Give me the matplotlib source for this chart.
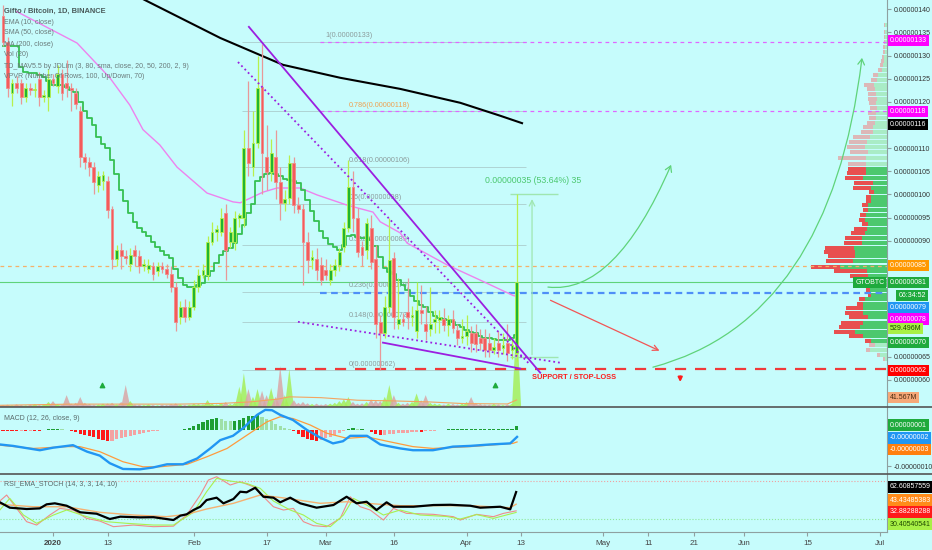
import numpy as np
import matplotlib.pyplot as plt
from matplotlib.lines import Line2D
from matplotlib.patches import FancyArrowPatch
from matplotlib.path import Path

plt.rcParams['font.family'] = ['Liberation Sans Narrow', 'DejaVu Sans Condensed', 'Liberation Sans', 'DejaVu Sans']

# ---- data (prices in satoshi, 1 sat = 0.00000001 BTC; day 0 = 2020-01-01) ----
first_day = -11
opens = [138.5, 133, 122, 124, 124, 121, 123, 122.5, 125, 121,
         121, 125, 123.5, 126, 124, 123, 122, 118, 108, 107,
         106, 102, 103, 103, 96.8, 86, 88, 86.8, 85, 88,
         86.8, 84.6, 84, 84.6, 83.5, 84.6, 84, 82.8, 80, 73.5,
         75.7, 73.5, 75.7, 80, 82.6, 82.6, 89.8, 92, 91.9, 96,
         89.8, 89.8, 95, 95, 110, 106, 111.1, 123.2, 108, 104.8,
         108, 102.7, 98.2, 99.2, 106.8, 97.7, 96.8, 89.8, 85.8, 86,
         84.8, 83.7, 81.5, 83.7, 84.8, 88.7, 92.8, 101.7, 95, 88.7,
         88, 92.8, 86, 72.5, 70.1, 75.7, 86.3, 72, 73, 74.6,
         73.5, 70.5, 75, 72, 71, 72.5, 72.9, 73, 71.8, 73,
         70.7, 69, 69.5, 70.1, 70, 69, 69, 68, 66.5, 68,
         66.9, 68, 66.4, 65.8]
highs = [141, 134, 125, 125.5, 125, 124, 124, 124, 126.5, 122.5,
         127, 126, 128, 127, 129, 124, 123, 119, 109, 108,
         107, 105, 105, 104, 97.5, 89, 89.5, 88, 88.5, 89,
         88, 86, 86, 85.5, 85.5, 85.5, 85, 84.5, 81, 77,
         77.5, 77, 81.5, 84, 85, 91, 94, 93.5, 97, 98,
         93, 96.5, 96, 114, 124.5, 118, 130, 132.5, 115, 112,
         114, 106, 101, 108.5, 108, 99.5, 98, 92, 88, 88.5,
         86.5, 86, 85, 86, 88.5, 94, 107.5, 105, 97, 90,
         95, 95.5, 89, 74, 78, 95, 87.5, 82, 74.5, 82,
         76, 81, 80.5, 76, 80, 75, 75, 75.5, 74, 75,
         72, 73, 74, 71.5, 72, 71, 71, 70, 69, 70.5,
         70, 72, 69, 100]
lows = [132, 121, 119, 122, 119.5, 120, 121.5, 121, 119, 120,
        118, 123.5, 122, 120.5, 121, 118, 118.5, 106, 105.5, 104,
        100, 100.5, 101, 95, 84, 84.5, 84, 85, 83.5, 84.5,
        83, 83.5, 83, 81.5, 82.5, 83, 82, 79, 70.5, 72,
        72.5, 72.8, 75, 79, 82, 81.5, 89, 90, 91, 81.5,
        88.5, 88, 93, 93, 104, 104, 110, 100, 101, 103,
        99, 94.5, 96.5, 98, 96, 96, 80.5, 83, 84, 81.5,
        80.5, 81.5, 80.5, 82.5, 83.5, 87.5, 92, 92, 86.5, 84.5,
        86, 84, 69, 62, 69, 74.5, 71, 71, 71.5, 71,
        71.5, 69, 72, 68.5, 69.5, 70, 70, 70.5, 69.5, 70,
        67.5, 68, 67.5, 66, 66, 66.5, 65, 65, 65.5, 65,
        65.5, 64, 64.5, 64]
closes = [133, 123, 124, 123, 121, 123, 122.5, 122.8, 121, 121.5,
          125, 124, 126, 122, 123, 122.5, 119.5, 108, 107, 106,
          102.7, 104, 104.2, 96.6, 86, 88, 86.8, 86.2, 87, 86.8,
          84.6, 85, 84.8, 82.8, 84.5, 84, 82.8, 80, 72.5, 75.7,
          73.5, 75.7, 80, 82.6, 83.7, 89.8, 92, 92.5, 95, 88,
          92, 95, 95.5, 110, 106.8, 111.1, 123, 109, 104.8, 109,
          102.7, 98.2, 99, 106.8, 97.7, 96.8, 89.8, 85.8, 86.5, 83.7,
          81.5, 82.6, 83.7, 84.8, 87.6, 92.8, 101.7, 95, 87.6, 87,
          93.8, 85.4, 72, 70.1, 75.7, 85.9, 73.5, 73, 72.5, 73.5,
          74, 75, 74.5, 70.5, 72, 73, 73.5, 71.8, 73, 71.2,
          69, 69.5, 70.5, 68, 67.8, 68, 66.4, 66.4, 67, 66.4,
          67.5, 65.8, 67.5, 81]
volumes = [12, 14, 10, 16, 12, 10, 14, 18, 12, 15,
           30, 35, 18, 15, 70, 20, 25, 59, 25, 18,
           14, 15, 20, 21, 25, 15, 30, 130, 35, 15,
           14, 12, 16, 12, 10, 14, 12, 18, 22, 15,
           12, 14, 20, 18, 16, 41, 20, 15, 24, 30,
           18, 25, 120, 200, 106, 60, 106, 95, 70, 112,
           60, 242, 70, 224, 40, 25, 30, 22, 18, 20,
           15, 18, 20, 25, 35, 45, 59, 30, 20, 22,
           30, 45, 40, 35, 60, 130, 70, 25, 20, 25,
           30, 80, 40, 70, 25, 20, 18, 15, 20, 18,
           15, 20, 30, 59, 25, 18, 15, 14, 18, 15,
           12, 16, 20, 529.5]
vol_ma_days = [-11.7, 4, 27.6, 37, 43.4, 49.6, 52, 59, 67, 74.8, 82.7, 90.5, 100, 102]
vol_ma = [10, 17, 17, 21, 30, 47, 60, 55, 40, 36, 30, 20, 18, 41.6]

# TD_MAV step line, SMA 50, MA 200
step_line = [132, 132, 132, 132, 127.5, 126.5, 126.2, 126.2, 125.8, 125.4,
             124.5, 123.6, 123.6, 123.6, 123.2, 122.6, 122.1, 120, 118, 116.5,
             115, 112.5, 111, 110, 107.5, 104.5, 101, 98.5, 96, 94,
             92.8, 92, 91, 89.8, 88.6, 87.8, 87, 86.2, 84, 82,
             80.5, 80, 80, 80.4, 80.9, 82.4, 83.5, 85.3, 87, 87.8,
             88.5, 89.5, 91.5, 93.5, 96, 98, 103, 103.8, 104.5, 104.7,
             104.4, 104, 103.4, 103.1, 103, 102.5, 101, 98.8, 96.5, 94.2,
             92.2, 90.5, 89.2, 88.6, 88, 89, 91, 91.2, 90.9, 90.6,
             90.5, 90.2, 88.9, 86.5, 84.2, 83.2, 82.8, 81.5, 80.4, 79.4,
             78, 77, 76.2, 75.6, 74.6, 73.8, 73.4, 73.2, 72.9, 72.4,
             71.8, 71.3, 70.8, 70.3, 70.1, 69.4, 69.1, 69.0, 68.8, 68.6,
             68.5, 68.6, 69.0, 69.6]
sma_days = [-8, -6.6, 5.3, 12.5, 16.9, 19.8, 23.5, 27.3, 33.9, 39.6, 41.2, 46.2, 49.3, 54.4, 58.1, 64.7, 70.4,
            72, 76.4, 77.9, 86.7, 94, 101.2, 102]
sma_vals = [139.5, 138.8, 132.7, 125.2, 119.3, 114, 110.7, 105.9, 100.3, 98.4, 98.2, 100.5, 101.4, 101.4, 99.9,
            97.7, 96.2, 94.1, 91.7, 89.5, 84.8, 81.5, 78.2, 78]
ma200_days = [16.9, 20.2, 36.8, 45.6, 50.6, 63.2, 76.4, 89.6, 98.4, 103.2]
ma200_vals = [143.7, 142, 133.8, 130.1, 128, 125.2, 122.8, 119.8, 117, 115.4]

# drawings
trend_solid = [([43.1, 107.2], [136.2, 61.5]), ([72.6, 102.8], [68, 62.4])]
trend_dotted = [([40.7, 105], [128.6, 63.2]), ([53.9, 112], [72.5, 63.6])]
fib_levels = [133, 118, 106, 98, 89, 79, 72.5, 62]
fib_names = ['1(0.00000133)', '0.786(0.00000118)', '0.618(0.00000106)', '0.5(0.00000098)',
             '0.382(0.00000089)', '0.236(0.00000079)', '0.148(0.00000072)', '0(0.00000062)']
support_level = 62.3
signal_days = [10.8, 97.3]

# volume profile rows: level, total volume, down volume
vp_levels = [136.6, 135.1, 134.0, 133.0, 131.9, 130.8, 129.7, 128.8, 128.0, 126.9,
             125.8, 124.7, 123.6, 122.8, 121.7, 120.6, 119.8, 118.7, 117.6, 116.5,
             115.4, 114.6, 113.5, 112.4, 111.3, 110.2, 109.2, 107.9, 106.6, 105.5,
             104.7, 103.6, 102.5, 101.4, 100.5, 99.5, 98.6, 97.7, 96.7, 95.6,
             94.5, 93.6, 92.6, 91.7, 90.6, 89.5, 88.4, 87.6, 86.7, 85.6,
             84.4, 83.5, 82.4, 81.4, 80.4, 79.3, 78.3, 77.4, 76.3, 75.5,
             74.4, 73.5, 72.2, 71.4, 70.3, 69.5, 68.4, 67.5, 66.4, 65.4, 64.5]
vp_total = [3, 3, 3, 3, 4, 4, 5, 6, 7, 9,
            14, 16, 23, 20, 19, 19, 18, 17, 19, 18,
            20, 24, 26, 34, 38, 40, 37, 49, 39, 39,
            40, 42, 33, 34, 18, 21, 21, 25, 24, 27,
            28, 25, 33, 36, 42, 43, 62, 63, 59, 61,
            76, 53, 37, 22, 20, 21, 19, 28, 30, 41,
            42, 38, 46, 48, 53, 38, 22, 18, 21, 10, 4]
vp_down = [1.5, 1.5, 1.5, 1.5, 2, 2, 2.5, 3, 3.5, 4.5,
           5, 6, 10, 8, 8, 9, 7, 7, 8, 7,
           8, 10, 12, 17, 18, 18, 18, 28, 18, 18,
           19, 18, 19, 18, 5, 5, 5, 6, 5, 6,
           6, 6, 13, 14, 17, 18, 29, 31, 27, 27,
           29, 33, 18, 6, 4, 4, 3, 6, 6, 17,
           18, 19, 22, 21, 21, 14, 6, 6, 4, 3, 2]
va_low, va_high = 68, 106

# MACD (sat)
macd_days = [-11.7, -8.8, -2.9, 0, 4.4, 7.5, 10.3, 12.5, 15.4, 19.1, 22, 25.1, 28.6, 31.7, 34.6, 36.8, 39.6, 41.8,
             44.9, 46.7, 48.2, 50, 52.8, 55.9, 58.8, 61.6, 63.8, 65.4, 69.1, 72, 73.5, 76.4, 79.2, 83.6, 88,
             91.8, 96.2, 100.6, 102.1]
macd_line = [-4.0, -4.4, -5.6, -4.9, -4.2, -6.0, -7.1, -9.2, -10.8, -10.9, -10.4, -9.5, -9.5, -7.9, -5.1, -2.8,
             -1.6, 0.5, 4.2, 5.6, 5.5, 4.2, 2.8, 0, -2.1, -3.7, -3.1, -1.6, -1.6, -4.0, -4.4, -5.1, -5.6, -5.6,
             -4.6, -4.4, -4.0, -3.7, -1.9]
sig_days = [-11.7, -4.4, 3.1, 5.9, 10.3, 15.4, 19.8, 23.5, 29.5, 33.9, 38.3, 42.7, 47.1, 50, 52.8, 56.6, 60.3,
            64.7, 69.1, 73.5, 79.2, 83.6, 91.8, 101.2, 102.1]
sig_line = [-4.2, -5.1, -4.6, -4.6, -6.0, -8.8, -10.2, -10.2, -9.5, -7.4, -5.1, -1.4, 2.3, 3.7, 3.2, 1.4, -0.9,
            -2.3, -1.9, -3.1, -4.6, -5.1, -4.6, -3.7, -3.3]
macd_hist = [-0.3, -0.3, -0.4, -0.4, -0.3, -0.3, -0.2, -0.2, -0.2, -0.1,
             0.2, 0.3, 0.3, 0.2, 0.1, -0.2, -0.6, -1.0, -1.3, -1.6,
             -2.0, -2.4, -2.7, -3.0, -2.9, -2.6, -2.2, -1.9, -1.6, -1.3,
             -1.0, -0.7, -0.5, -0.3, -0.2, -0.1, 0.1, 0.1, -0.1, 0.1,
             0.2, 0.6, 1.2, 1.8, 2.3, 2.8, 3.2, 3.3, 3.1, 2.6,
             2.4, 2.5, 2.9, 3.4, 3.8, 4.0, 4.1, 3.6, 3.0, 2.4,
             1.8, 1.2, 0.7, 0.3, -0.4, -1.1, -1.8, -2.4, -2.8, -3.0,
             -2.7, -2.3, -1.8, -1.3, -0.8, -0.3, 0.4, 0.5, 0.2, 0.3,
             0.1, -0.6, -1.2, -1.5, -1.4, -1.1, -1.0, -0.9, -0.8, -0.7,
             -0.6, -0.5, -0.5, -0.4, -0.3, -0.2, -0.1, 0.1, 0.2, 0.2,
             0.2, 0.2, 0.2, 0.2, 0.2, 0.2, 0.2, 0.2, 0.2, 0.2,
             0.2, 0.2, 0.3, 1.0]

# RSI_EMA_STOCH
rsi_days = [-11.7, -9.5, -5.8, -2.9, -1.4, 0.4, 3, 6, 9.6, 12.5, 14.8, 19.2, 22.1, 26.5, 28, 29.4, 30.9, 32.4,
            33.8, 36, 37.5, 39.7, 41.2, 42.6, 44.5, 46.3, 48.5, 50, 52.2, 54.4, 58, 61.7, 64.6, 66.8, 69, 71.2,
            73.4, 74.9, 79.3, 83.7, 87.4, 91.8, 94, 98.4, 100.6, 101.9]
rsi_black = [46.4, 37.9, 35.8, 36.8, 43.2, 44.8, 41, 30.6, 28.4, 20, 23.7, 22.6, 22.9, 18.4, 25.3, 27.4, 34.2,
             39.4, 50, 53.7, 44.8, 51.6, 63.1, 62.2, 69.4, 55.2, 53.7, 46.4, 53.7, 44.8, 37.9, 42.1, 55.2, 44.8,
             47.3, 34.2, 46.4, 39.4, 39.4, 42.1, 42.5, 41, 37.9, 39.4, 35.3, 62.6]
ema_days = [-11.7, -4.4, 3, 10.3, 17.7, 25, 29.4, 33.8, 39.7, 45.6, 51.4, 58.8, 64.6, 69, 76.4, 83.7, 91.8,
            100.6, 101.9]
rsi_orange = [43.2, 39.4, 39.4, 30.6, 26.3, 23.7, 27.4, 35.8, 44.8, 57.9, 52.7, 44.8, 47.3, 44.8, 41, 41, 41,
              37.9, 43.4]
k_days = [-11.7, -10.2, -8, -5.8, -3.6, -0.7, 1.5, 4.5, 7.4, 10.3, 13.3, 17.7, 22.1, 26.5, 29.4, 32.4, 34.2, 36,
          39, 41.2, 44.1, 46.3, 48.5, 50.7, 52.9, 55.1, 57.3, 60.2, 63.2, 65.4, 67.6, 69.8, 72.7, 74.9, 77.8,
          83.7, 88.1, 89.6, 93.2, 96.9, 99.1, 101.9]
stoch_k = [48.4, 57.9, 36.8, 15.8, 10.5, 26.3, 36.8, 34, 21, 16.8, 7.9, 10.5, 7.9, 8.7, 26.3, 57.9, 81.6, 86.8,
           73.7, 78.9, 71, 55.2, 39.4, 34.2, 36.8, 15.8, 9.5, 7.9, 21, 55.2, 39.4, 34.2, 18.4, 36.8, 28.9, 27.4,
           23.7, 18.4, 27.4, 23.7, 28.9, 32.9]
d_days = [-11.7, -9.5, -6.5, -3.6, 0.1, 3, 7.4, 11.8, 16.2, 22.1, 26.5, 30.9, 33.8, 36, 39, 42.6, 45.6, 48.5,
          52.2, 55.1, 58, 61, 63.9, 66.1, 69, 72.7, 76.4, 80.8, 86.6, 89.6, 93.2, 96.9, 101.9]
stoch_d = [34.2, 52.6, 26.3, 13.2, 26.3, 34.2, 23.7, 15.8, 13.2, 10.5, 10.5, 30.6, 63.1, 84.2, 80, 76.3, 68.4,
           48.4, 34.2, 26.3, 13.2, 7.9, 26.3, 52.6, 42.1, 26.3, 34.2, 26.3, 24, 20, 27, 21, 30.4]

tick_days = [0, 12, 31, 47, 60, 75, 91, 103, 121, 131, 141, 152, 166, 182]
tick_names = ['2020', '13', 'Feb', '17', 'Mar', '16', 'Apr', '13', 'May', '11', '21', 'Jun', '15', 'Jul']

price_ticks = [60, 65, 90, 95, 100, 105, 110, 120, 125, 130, 135, 140]
tag_vals = [133.2, 118, 115.2, 84.6, 81, 75.6, 73.1, 68.1, 61.9]
tag_texts = ['0.00000133', '0.00000118', '0.00000116', '0.00000085', '0.00000081', '0.00000079',
             '0.00000078', '0.00000070', '0.00000062']
tag_colors = ['#ff00ff', '#ff00ff', '#000000', '#ff9800', '#1faa3c', '#2196f3', '#ff00ff', '#1faa3c', '#ff0000']

# ---- figure ----
BG = '#c6fcfc'
X0, X1 = -11.66, 183.5
W = 887 / 932
FS = 5.0      # right-hand scale labels
LFS = 5.0     # legend text


def box(top, bottom):
    return [0, (550 - bottom) / 550, W, (bottom - top) / 550]


fig = plt.figure(figsize=(9.32, 5.5), dpi=100)
fig.patch.set_facecolor(BG)

days = np.arange(first_day, first_day + len(opens))
o = np.array(opens)
c = np.array(closes)
up = c >= o

# volume (background layer)
axv = fig.add_axes(box(0, 407))
axv.set_facecolor(BG)
for d, v, u in zip(days, volumes, up):
    axv.fill([d - 1, d, d + 1], [0, v, 0], color='#a6ee5a' if u else '#d9a6a6', alpha=0.85, lw=0)
axv.plot(vol_ma_days, vol_ma, color='#f4a460', lw=0.8)
axv.scatter(signal_days, [130, 130], marker='^', s=10, color='#1faa3c', zorder=5)
axv.set_xlim(X0, X1)
axv.set_ylim(0, 2400)
axv.axis('off')

# volume profile
axp = fig.add_axes(box(0, 407))
axp.patch.set_visible(False)
lv = np.array(vp_levels)
dn = np.array(vp_down)
upv = np.array(vp_total) - dn
inside = (lv >= va_low) & (lv <= va_high)
axp.barh(lv, upv, left=0, height=0.8, color=np.where(inside, '#4cc86e', '#a9ecc6'), lw=0)
axp.barh(lv, dn, left=upv, height=0.8, color=np.where(inside, '#e85050', '#dcb8b8'), lw=0)
axp.set_xlim(max(vp_total) / 0.086, 0)
axp.set_ylim(54.1, 142.0)
axp.axis('off')

# price
ax = fig.add_axes(box(0, 407))
ax.patch.set_visible(False)
ax.set_xlim(X0, X1)
ax.set_ylim(54.1, 142.0)

ax.hlines(fib_levels, 41.6, 104, color='#9aaeae', lw=0.6, alpha=0.6, zorder=1)
for lvl, name in zip(fib_levels, fib_names):
    ax.text(59.9 if lvl == 133 else 65, lvl + 0.5, name, fontsize=5.2,
            color='#f0a050' if lvl == 118 else '#8c9c9c', va='bottom', zorder=2)
ax.axhline(84.6, color='#f5b06a', ls=(0, (3, 3)), lw=0.9, zorder=1)
ax.axhline(81, color='#5fd37a', lw=0.8, zorder=1)
ax.hlines(78.8, 58.8, X1, color='#4f8ff7', ls=(0, (3, 2)), lw=1.6, zorder=1)
ax.hlines([133, 118], 58.8, X1, color='#e066ff', ls=(0, (3, 3)), lw=0.9, zorder=1)
ax.hlines(support_level, 44.5, X1, color='#f03a3a', ls=(0, (5, 4)), lw=1.6, zorder=2)

ax.plot(ma200_days, ma200_vals, color='black', lw=1.5, zorder=3)
ax.plot(sma_days, sma_vals, color='#ee82ee', lw=1.0, zorder=3)
ax.step(days, step_line, where='mid', color='#35c052', lw=1.3, zorder=3)

ax.vlines(days, lows, highs, colors=np.where(up, '#b8f04c', '#e89898'), lw=0.9, zorder=4)
ax.bar(days, np.maximum(np.abs(c - o), 0.3), bottom=np.minimum(o, c), width=0.62,
       color=np.where(up, '#21b532', '#f45b5b'), edgecolor=np.where(up, '#b8f04c', '#f08a8a'),
       lw=0.6, zorder=5)

for xs, ys in trend_solid:
    ax.plot(xs, ys, color='#9b1fe0', lw=1.3, zorder=6)
for xs, ys in trend_dotted:
    ax.plot(xs, ys, color='#9b1fe0', lw=1.3, ls=':', zorder=6)

# measure tool
ax.hlines([100, 64.8], 100.6, 111.2, color='#9fe6b0', lw=1.0, zorder=2)
ax.annotate('', xy=(105.4, 99.6), xytext=(105.4, 64.8),
            arrowprops=dict(arrowstyle='->', color='#9fe6b0', lw=0.9), zorder=2)
ax.text(105.6, 103.1, '0.00000035 (53.64%) 35', color='#4cc870', fontsize=6.3, ha='center', va='center')

# projection arrows
for verts, col in [([(108.9, 80), (123.6, 78.3), (136, 106.4)], '#5fd37a'),
                   ([(132, 62.7), (171, 72.9), (178, 129.5)], '#5fd37a')]:
    ax.add_patch(FancyArrowPatch(path=Path(verts, [Path.MOVETO, Path.CURVE3, Path.CURVE3]),
                                 arrowstyle='->,head_length=0.5,head_width=0.3', mutation_scale=8,
                                 color=col, lw=0.9, zorder=6))
ax.annotate('', xy=(134, 66), xytext=(108.9, 77.4),
            arrowprops=dict(arrowstyle='->', color='#f25555', lw=0.9), zorder=6)
ax.annotate('', xy=(138, 58.9), xytext=(138, 61.3),
            arrowprops=dict(arrowstyle='-|>', color='#ff1a1a', lw=1.4, mutation_scale=6), zorder=6)
ax.text(105.4, 60.4, 'SUPPORT / STOP-LOSS', color='#ff1a1a', fontsize=5.3, fontweight='bold',
        va='center', ha='left', zorder=7)

# axes styling
for sp in ['top', 'left', 'bottom']:
    ax.spines[sp].set_visible(False)
ax.spines['right'].set_color('#8fa0a0')
ax.set_xticks([])
ax.yaxis.tick_right()
ax.set_yticks(price_ticks)
ax.set_yticklabels([f'{v * 1e-8:.8f}' for v in price_ticks])
ax.tick_params(axis='y', labelsize=FS, colors='#8fa0a0', labelcolor='#333333', length=3, pad=1.5)


def tag(a, val, txt, fc, tc='white', x=1.003, ha='left'):
    a.text(x, val, txt, transform=a.get_yaxis_transform(), ha=ha, va='center', fontsize=FS,
           color=tc, clip_on=False, zorder=20,
           bbox=dict(boxstyle='square,pad=0.3', fc=fc, ec='none'))


for v, t, col in zip(tag_vals, tag_texts, tag_colors):
    tag(ax, v, t, col)
tag(ax, 81, 'GTOBTC', '#1faa3c', x=0.997, ha='right')
tag(ax, 78.2, '06:34:52', '#1faa3c', x=1.013)
tag(ax, 71.0, '529.496M', '#a8f046', tc='#1f4a00')
tag(ax, 56.1, '41.567M', '#f6a878', tc='#4a2a10')

# MACD
axm = fig.add_axes(box(407, 474))
axm.set_facecolor(BG)
hist_col = []
for i, h in enumerate(macd_hist):
    prev = macd_hist[i - 1] if i else h
    if h >= 0:
        hist_col.append('#1e9e34' if h >= prev else '#9fe0a8')
    else:
        hist_col.append('#ff1a1a' if h <= prev else '#f3a3a3')
axm.bar(days, macd_hist, width=0.7, color=hist_col, lw=0)
axm.plot(sig_days, sig_line, color='#ff9a3c', lw=0.9)
axm.plot(macd_days, macd_line, color='#2196f3', lw=1.7)
axm.set_xlim(X0, X1)
axm.set_ylim(-12.2, 6.4)
for sp in ['top', 'left', 'bottom']:
    axm.spines[sp].set_visible(False)
axm.spines['right'].set_color('#8fa0a0')
axm.set_xticks([])
axm.yaxis.tick_right()
axm.set_yticks([-10])
axm.set_yticklabels(['-0.00000010'])
axm.tick_params(axis='y', labelsize=FS, colors='#8fa0a0', labelcolor='#333333', length=3, pad=1.5)
tag(axm, 1.4, '0.00000001', '#1faa3c')
tag(axm, -2.2, '-0.00000002', '#2196f3')
tag(axm, -5.3, '-0.00000003', '#ff7f0e')

# RSI_EMA_STOCH
axr = fig.add_axes(box(474, 532))
axr.set_facecolor(BG)
axr.axhline(80, color='#f0a0a0', lw=0.8, ls=':')
axr.axhline(20, color='#8fe89a', lw=0.8, ls=':')
axr.plot(k_days, stoch_k, color='#f08a8a', lw=0.8)
axr.plot(d_days, stoch_d, color='#a8f050', lw=0.8)
axr.plot(ema_days, rsi_orange, color='#f5b070', lw=1.0)
axr.plot(rsi_days, rsi_black, color='black', lw=1.6)
axr.set_xlim(X0, X1)
axr.set_ylim(-0.5, 91.1)
for sp in ['top', 'left']:
    axr.spines[sp].set_visible(False)
axr.spines['right'].set_color('#8fa0a0')
axr.spines['bottom'].set_color('#8fa0a0')
axr.set_yticks([])
axr.set_xticks(tick_days)
axr.set_xticklabels(tick_names)
axr.tick_params(axis='x', labelsize=5.8, colors='#8fa0a0', labelcolor='#444444', length=3, pad=2.5)
axr.get_xticklabels()[0].set_fontweight('bold')
tag(axr, 70.6, '62.60857559', '#000000')
tag(axr, 50.0, '43.43485383', '#ff8c1a')
tag(axr, 31.1, '32.88288288', '#ff1a1a')
tag(axr, 12.1, '30.40540541', '#a8f046', tc='#1f4a00')

# pane separators
for yy in [407, 474]:
    fig.add_artist(Line2D([0, 1], [1 - yy / 550, 1 - yy / 550], transform=fig.transFigure,
                          color='#555555', lw=1.2))

# legends
legend = ['Gifto / Bitcoin, 1D, BINANCE', 'EMA (10, close)', 'SMA (50, close)', 'MA (200, close)', 'Vol (20)',
          'TD_MAV5.5 by JDLim (3, 80, sma, close, 20, 50, 200, 2, 9)',
          'VPVR (Number Of Rows, 100, Up/Down, 70)']
for i, t in enumerate(legend):
    fig.text(4 / 932, 1 - (11 + 11 * i) / 550, t, fontsize=LFS + 0.4 if i == 0 else LFS, va='center',
             color='#4a5a5a' if i == 0 else '#6a7a7a', fontweight='bold' if i == 0 else 'normal')
fig.text(4 / 932, 1 - 419 / 550, 'MACD (12, 26, close, 9)', fontsize=LFS, va='center', color='#5a6a6a')
fig.text(4 / 932, 1 - 485 / 550, 'RSI_EMA_STOCH (14, 3, 3, 14, 10)', fontsize=LFS, va='center', color='#5a6a6a')

fig.savefig('out.png', dpi=100, facecolor=BG)
